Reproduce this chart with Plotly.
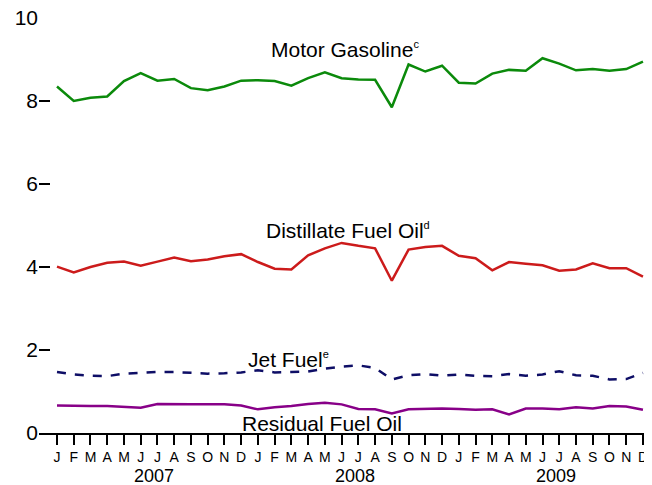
import plotly.graph_objects as go

months = ["J", "F", "M", "A", "M", "J", "J", "A", "S", "O", "N", "D"] * 3
years = ["2007", "2008", "2009"]

motor_gasoline = [8.35, 8.00, 8.08, 8.11, 8.48, 8.67, 8.49, 8.53, 8.31, 8.26, 8.35, 8.49,
                  8.50, 8.48, 8.37, 8.55, 8.69, 8.55, 8.52, 8.51, 7.85, 8.88, 8.71, 8.85,
                  8.44, 8.42, 8.66, 8.75, 8.73, 9.03, 8.90, 8.74, 8.77, 8.73, 8.77, 8.95]
distillate = [4.01, 3.87, 4.00, 4.10, 4.13, 4.03, 4.13, 4.23, 4.14, 4.18, 4.26, 4.31,
              4.12, 3.96, 3.94, 4.28, 4.45, 4.58, 4.51, 4.45, 3.67, 4.42, 4.48, 4.51,
              4.27, 4.21, 3.92, 4.12, 4.08, 4.04, 3.91, 3.94, 4.09, 3.97, 3.97, 3.77]
jet_fuel = [1.47, 1.41, 1.38, 1.37, 1.43, 1.45, 1.47, 1.47, 1.45, 1.43, 1.44, 1.46,
            1.51, 1.46, 1.47, 1.48, 1.55, 1.60, 1.63, 1.57, 1.29, 1.39, 1.42, 1.38,
            1.41, 1.38, 1.37, 1.42, 1.38, 1.41, 1.49, 1.39, 1.38, 1.29, 1.30, 1.45]
residual = [0.66, 0.65, 0.65, 0.65, 0.63, 0.61, 0.70, 0.69, 0.69, 0.69, 0.69, 0.66,
            0.57, 0.62, 0.65, 0.70, 0.73, 0.69, 0.58, 0.57, 0.47, 0.57, 0.58, 0.59,
            0.58, 0.56, 0.57, 0.45, 0.59, 0.59, 0.57, 0.62, 0.59, 0.65, 0.64, 0.56]

x = list(range(len(months)))
FONT = "Liberation Sans, Arial, sans-serif"

fig = go.Figure()
series = [
    (motor_gasoline, "#0B8A0B", "solid"),
    (distillate, "#CC1B1B", "solid"),
    (jet_fuel, "#0E0E66", "dash"),
    (residual, "#880088", "solid"),
]
for vals, col, dash in series:
    fig.add_trace(go.Scatter(x=x, y=vals, mode="lines",
                             line=dict(color=col, width=2.5, dash=dash),
                             showlegend=False, hoverinfo="skip"))


def sup(letter):
    return "<sup><span style='font-size:11px'>" + letter + "</span></sup>"


labels = [
    ("Motor Gasoline" + sup("c"), 17.2, 9.23),
    ("Distillate Fuel Oil" + sup("d"), 17.4, 4.88),
    ("Jet Fuel" + sup("e"), 13.8, 1.78),
    ("Residual Fuel Oil", 15.8, 0.22),
]
for txt, lx, ly in labels:
    fig.add_annotation(x=lx, y=ly, xref="x", yref="y", text=txt, showarrow=False,
                       font=dict(family=FONT, size=21, color="black"))

for i, yr in enumerate(years):
    fig.add_annotation(x=5.8 + 12 * i, y=-0.104, xref="x", yref="paper", text=yr,
                       showarrow=False, yanchor="middle",
                       font=dict(family=FONT, size=18, color="black"))

# the page adds an 8px body margin, so the figure is sized to fill the rest
fig.update_layout(
    width=644, height=477,
    margin=dict(l=31, r=0, t=10, b=51.5),
    paper_bgcolor="white", plot_bgcolor="white",
    font=dict(family=FONT, color="black"),
    xaxis=dict(range=[-1.075, 35.54], tickvals=x, ticktext=months,
               ticks="outside", ticklen=10, tickwidth=2, tickcolor="black",
               showline=True, linewidth=2, linecolor="black",
               showgrid=False, zeroline=False, automargin=False,
               ticklabeloverflow="allow",
               tickfont=dict(family=FONT, size=14, color="black")),
    yaxis=dict(range=[0, 10], tickvals=[0, 2, 4, 6, 8, 10],
               ticks="inside", ticklen=11, tickwidth=2, tickcolor="black",
               showline=False, showgrid=False, zeroline=False, automargin=False,
               ticklabeloverflow="allow",
               tickfont=dict(family=FONT, size=21, color="black")),
)

fig.write_html("out.html")
